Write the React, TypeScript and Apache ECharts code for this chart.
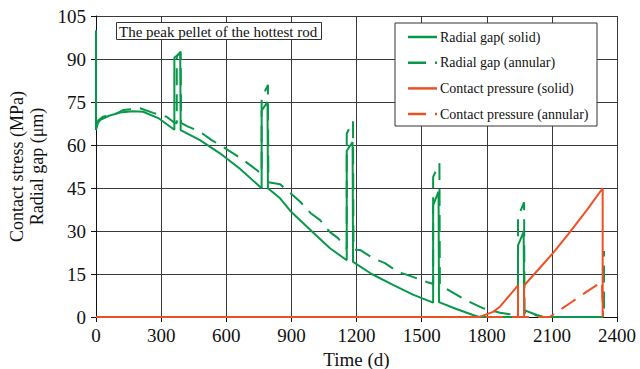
import React, { useEffect, useRef } from "react";
import * as echarts from "echarts";

// Time (d) vs value; radial gap in μm, contact pressure in MPa
const radialGapSolid: [number, number][] = [
  [0, 100], [0, 65.2], [8, 67.5], [20, 68.8], [60, 70.2], [110, 71.3], [170, 71.8], [217, 71.6],
  [287, 69.4], [361, 65.3],
  [361, 90.5], [388, 92], [390, 65.2],
  [479, 61.7], [571, 57.1], [663, 51.7], [763, 44.9],
  [763, 72], [790, 75], [792, 44.9],
  [848, 41.4], [900, 36.6], [1000, 29.5], [1078, 24], [1155, 19.8],
  [1155, 58], [1182, 61], [1184, 19.2],
  [1270, 15], [1368, 11.2], [1460, 7.8], [1553, 5],
  [1553, 39], [1578, 43.7], [1580, 5.2],
  [1660, 2.8], [1737, 0.7], [1765, 0], [1944, 0],
  [1944, 25], [1970, 29.7], [1972, 2.4],
  [2031, 0.7], [2060, 0], [2336, 0],
];

const radialGapAnnular: [number, number][] = [
  [0, 66], [10, 68.5], [33, 69.9], [95, 71], [125, 72.2], [203, 72.8], [263, 71.2], [327, 69.8],
  [355, 68.1], [372, 67.6],
  [372, 91], [390, 92.6], [392, 67.7],
  [419, 66.6], [479, 64.6], [533, 61.7], [571, 60], [632, 57.1], [678, 54.8], [740, 51.3], [763, 49.8],
  [763, 76.3], [792, 81], [794, 47],
  [848, 46.3], [894, 43.3], [942, 40.1], [988, 36.3], [1032, 33.8], [1078, 29.6], [1115, 27.5],
  [1147, 24.4], [1155, 24],
  [1155, 64], [1184, 68.3], [1186, 23.5],
  [1216, 23.4], [1277, 20.5], [1331, 18.8], [1391, 15.7], [1437, 14.6], [1524, 12.2], [1553, 11.5],
  [1553, 48.9], [1582, 53.6], [1584, 11.2],
  [1640, 8.7], [1700, 6], [1782, 3.1], [1861, 1.5], [1944, 0.5],
  [1944, 35], [1972, 40], [1974, 1.5],
  [2031, 0.5], [2060, 0], [2340, 0], [2340, 23],
];

const pressureSolid: [number, number][] = [
  [0, 0], [1765, 0], [1783, 0.5], [1829, 1.8], [1861, 3.6], [1891, 6.3], [1944, 11],
  [1944, 0], [1972, 0], [1972, 11],
  [2036, 16.4], [2105, 22.3], [2183, 29.6], [2261, 37.3], [2334, 44.9], [2334, 0],
];

const pressureAnnular: [number, number][] = [
  [0, 0], [2090, 0], [2115, 1.3], [2183, 4.8], [2252, 8.4], [2330, 12.3], [2336, 0],
];

const seriesNames = [
  "Radial gap( solid)",
  "Radial gap (annular)",
  "Contact pressure (solid)",
  "Contact pressure (annular)",
];

const GREEN = "#07984a";
const ORANGE = "#ef5023";
const FONT = "Liberation Serif";
const DASH = [17, 9];

const seriesColors = [GREEN, GREEN, ORANGE, ORANGE];
const seriesDashed = [false, true, false, true];

export default function App() {
  const ref = useRef<HTMLDivElement>(null);

  useEffect(() => {
    if (!ref.current) return;
    const chart = echarts.init(ref.current, undefined, { renderer: "svg" });

    const mkLine = (i: number, data: [number, number][]) => ({
      name: seriesNames[i],
      type: "line",
      data,
      symbol: "none",
      showSymbol: false,
      lineStyle: { color: seriesColors[i], width: 2, type: seriesDashed[i] ? DASH : "solid" },
      itemStyle: { color: seriesColors[i] },
    });

    // boxed key in the upper right of the plot
    const keyLeft = 395;
    const keyTop = 23;
    const rowY = (i: number) => keyTop + 14 + i * 25.7;
    const keyItems: any[] = [
      {
        type: "rect",
        shape: { x: keyLeft, y: keyTop, width: 202, height: 103 },
        style: { fill: "#fff", stroke: "#333", lineWidth: 1 },
        z: 10,
      },
    ];
    seriesNames.forEach((name, i) => {
      keyItems.push({
        type: "line",
        shape: { x1: keyLeft + 13, y1: rowY(i), x2: keyLeft + 42, y2: rowY(i) },
        style: {
          stroke: seriesColors[i],
          lineWidth: 2.5,
          lineDash: seriesDashed[i] ? [18, 9] : null,
        },
        z: 11,
      });
      keyItems.push({
        type: "text",
        x: keyLeft + 45,
        y: rowY(i),
        style: {
          text: name,
          fill: "#111",
          font: `14px ${FONT}`,
          textVerticalAlign: "middle",
          verticalAlign: "middle",
        },
        z: 11,
      });
    });

    const plain = (v: number) => String(v);

    chart.setOption({
      animation: false,
      backgroundColor: "#fff",
      textStyle: { fontFamily: FONT },
      title: {
        text: "The peak pellet of the hottest rod",
        left: 116,
        top: 22,
        padding: [2, 4, 1, 3],
        borderColor: "#333",
        borderWidth: 1,
        backgroundColor: "#fff",
        textStyle: { fontFamily: FONT, fontSize: 15, fontWeight: "normal", color: "#111" },
      },
      graphic: keyItems,
      grid: {
        left: 96,
        right: 23,
        top: 16,
        bottom: 52,
        containLabel: false,
        outerBoundsMode: "none",
      },
      xAxis: {
        type: "value",
        min: 0,
        max: 2400,
        interval: 300,
        name: "Time (d)",
        nameLocation: "middle",
        nameGap: 28,
        nameTextStyle: { fontFamily: FONT, fontSize: 19, lineHeight: 18, color: "#111" },
        axisLine: { show: true, lineStyle: { color: "#111", width: 1 } },
        axisTick: { show: true, inside: false, length: 5, lineStyle: { color: "#111" } },
        axisLabel: { fontFamily: FONT, fontSize: 19, color: "#111", margin: 9, formatter: plain },
        splitLine: { show: true, lineStyle: { color: "#3a3a3a", width: 1 } },
      },
      yAxis: {
        type: "value",
        min: 0,
        max: 105,
        interval: 15,
        name: "Contact stress (MPa)\nRadial gap (μm)",
        nameLocation: "middle",
        nameRotate: 90,
        nameGap: 42,
        nameTextStyle: { fontFamily: FONT, fontSize: 18, color: "#111", lineHeight: 20 },
        axisLine: { show: true, lineStyle: { color: "#111", width: 1 } },
        axisTick: { show: true, inside: false, length: 5, lineStyle: { color: "#111" } },
        axisLabel: { fontFamily: FONT, fontSize: 19, color: "#111", margin: 10, formatter: plain },
        splitLine: { show: true, lineStyle: { color: "#3a3a3a", width: 1 } },
      },
      series: [
        mkLine(0, radialGapSolid),
        mkLine(1, radialGapAnnular),
        mkLine(2, pressureSolid),
        mkLine(3, pressureAnnular),
      ],
    });

    return () => chart.dispose();
  }, []);

  return (
    <div
      ref={ref}
      style={{ position: "fixed", left: 0, top: 0, width: 640, height: 369, background: "#fff" }}
    />
  );
}
